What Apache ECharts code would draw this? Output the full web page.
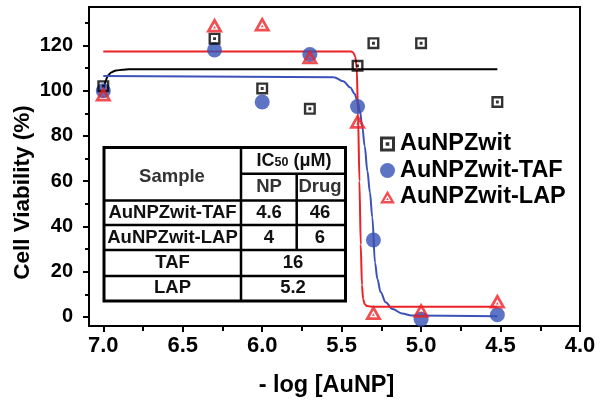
<!DOCTYPE html>
<html>
<head>
<meta charset="utf-8">
<script src="https://cdn.jsdelivr.net/npm/echarts@6/dist/echarts.min.js"></script>
<style>
  html, body { margin: 0; padding: 0; background: #fff; }
  #main { width: 601px; height: 403px; }
</style>
</head>
<body>
<div id="main"></div>
<script>
// -log[AuNP] 浓度点
const conc = [7.0, 6.3, 6.0, 5.7, 5.4, 5.3, 5.0, 4.52];
const zwit = [102, 123, 101, 92, 111, 121, 121, 95];
const taf = [100, 118, 95, 116, 93, 34, -1, 1];
const lap = [98.5, 129, 129.5, 115, 86.5, 2, 3, 7];

// 拟合曲线（从图上读的点）
const zwitFitX = [6.995, 6.985, 6.97, 6.95, 6.92, 6.88, 6.84, 4.52];
const zwitFitY = [101, 104.5, 106.8, 108.1, 108.9, 109.3, 109.5, 109.5];
const tafFitX = [7.0, 5.55, 5.49, 5.445, 5.42, 5.40, 5.385, 5.37, 5.355, 5.338, 5.322, 5.307, 5.29, 5.275, 5.255, 5.223, 5.18, 5.12, 5.06, 4.52];
const tafFitY = [106.5, 106, 104.2, 101.4, 98.8, 95.5, 91, 84, 75.5, 64.5, 55, 44, 24, 16.8, 11, 6.5, 3.5, 1.5, 0.6, 0.3];
const lapFitX = [7.0, 5.44, 5.426, 5.414, 5.405, 5.397, 5.388, 5.38, 5.372, 5.365, 5.355, 5.34, 5.3, 4.52];
const lapFitY = [117.3, 117.3, 116.8, 115, 110, 90, 60, 32, 14, 8, 5.6, 4.8, 4.5, 4.5];

// 坐标轴刻度
const xTicks = [4.0, 4.5, 5.0, 5.5, 6.0, 6.5, 7.0];
const xMinorTicks = [4.25, 4.75, 5.25, 5.75, 6.25, 6.75];
const yTicks = [0, 20, 40, 60, 80, 100, 120];
const yMinorTicks = [10, 30, 50, 70, 90, 110, 130];

// 表格内容
const tableRows = [
    ['AuNPZwit-TAF', '4.6', '46'],
    ['AuNPZwit-LAP', '4', '6'],
    ['TAF', '16'],
    ['LAP', '5.2']
];

const FONT = '"Liberation Sans", Arial, sans-serif';
const BLUE = '#3450b4';
const RED = '#ec2227';

const squarePath = 'path://M0,0H10V10H0Z M2,2V8H8V2Z M3.8,3.8H6.2V6.2H3.8Z';
const triPath = 'path://M5,0L10,8.66L0,8.66Z M5,3.2L2.77,7.06L7.23,7.06Z M5,4.79L5.85,6.26L4.15,6.26Z';

function pairs(xs, ys) {
    return xs.map((x, i) => [x, ys[i]]);
}

const chart = echarts.init(document.getElementById('main'));

// 表格
const tableGraphics = [];
const rowY = [212.7, 238.3, 263.3, 288.3];
const txt = function (text, x, y, color) {
    return {
        type: 'text', z: 100,
        style: {
            text: text, x: x, y: y, align: 'center', verticalAlign: 'middle',
            fontSize: 18.5, fontWeight: 'bold', fontFamily: FONT, fill: color || '#111'
        }
    };
};
const ln = function (x1, y1, x2, y2) {
    return {
        type: 'line', z: 100,
        shape: { x1: x1, y1: y1, x2: x2, y2: y2 },
        style: { stroke: '#000', lineWidth: 2.5 }
    };
};
tableGraphics.push({
    type: 'rect', z: 99,
    shape: { x: 104, y: 147.5, width: 241.5, height: 153.5 },
    style: { fill: '#fff', stroke: '#000', lineWidth: 3 }
});
tableGraphics.push(ln(241, 147.5, 241, 301));
tableGraphics.push(ln(296.7, 173.8, 296.7, 250));
tableGraphics.push(ln(241, 173.8, 345.5, 173.8));
[200.5, 225, 250, 276].forEach(y => tableGraphics.push(ln(104, y, 345.5, y)));
tableGraphics.push(txt('Sample', 172, 176.7, '#333'));
tableGraphics.push({
    type: 'text', z: 100,
    style: {
        text: '{a|IC}{b|50}{a| (μM)}', x: 294, y: 160.7, align: 'center', verticalAlign: 'middle',
        rich: {
            a: { fontSize: 18, fontWeight: 'bold', fontFamily: FONT, fill: '#111' },
            b: { fontSize: 12.5, fontWeight: 'bold', fontFamily: FONT, fill: '#111', padding: [3, 0, 0, 0] }
        }
    }
});
tableGraphics.push(txt('NP', 269, 187.3, '#333'));
tableGraphics.push(txt('Drug', 320, 187.3, '#333'));
tableRows.forEach((row, i) => {
    tableGraphics.push(txt(row[0], 172.5, rowY[i]));
    if (row.length === 3) {
        tableGraphics.push(txt(row[1], 269, rowY[i]));
        tableGraphics.push(txt(row[2], 320, rowY[i]));
    } else {
        tableGraphics.push(txt(row[1], 293, rowY[i]));
    }
});

const tickStyle = { color: '#000', width: 2 };

const option = {
    animation: false,
    backgroundColor: '#fff',
    grid: {
        left: 89, right: 21, top: 7, bottom: 76,
        show: true, borderColor: '#000', borderWidth: 2
    },
    legend: {
        orient: 'vertical',
        left: 375, top: 127,
        itemWidth: 15, itemHeight: 16, itemGap: 2.5,
        textStyle: { fontSize: 23.5, fontWeight: 'bold', fontFamily: FONT, color: '#000' },
        data: [
            { name: 'AuNPZwit', icon: squarePath },
            { name: 'AuNPZwit-TAF', icon: 'circle' },
            { name: 'AuNPZwit-LAP', icon: triPath }
        ]
    },
    xAxis: [{
        type: 'value', min: 4, max: 7.09, inverse: true,
        name: '- log [AuNP]', nameLocation: 'middle', nameGap: 48,
        nameTextStyle: { fontSize: 23.5, fontWeight: 'bold', fontFamily: FONT, color: '#000', padding: [0, 16, 0, 0] },
        axisLine: { onZero: false, lineStyle: { color: '#000', width: 2 } },
        axisTick: { customValues: xTicks, length: 6, lineStyle: tickStyle },
        minorTick: { show: true, splitNumber: 2, length: 5, lineStyle: tickStyle },
        axisLabel: {
            customValues: xTicks, margin: 9,
            fontSize: 22, fontWeight: 'bold', fontFamily: FONT, color: '#000',
            formatter: v => v.toFixed(1)
        },
        splitLine: { show: false }
    }, {
        type: 'value', min: 4, max: 7.09, inverse: true, position: 'bottom',
        axisLine: { show: false, onZero: false },
        axisTick: { customValues: xMinorTicks, length: 5, lineStyle: tickStyle },
        axisLabel: { show: false },
        splitLine: { show: false }
    }],
    yAxis: [{
        type: 'value', min: -4, max: 137, splitNumber: 7,
        name: 'Cell Viability (%)', nameLocation: 'middle', nameGap: 55, nameMoveOverlap: false,
        nameTextStyle: { fontSize: 22.5, fontWeight: 'bold', fontFamily: FONT, color: '#000', padding: [0, 52, 0, 0] },
        axisLine: { onZero: false, lineStyle: { color: '#000', width: 2 } },
        axisTick: { customValues: yTicks, length: 6, lineStyle: tickStyle },
        minorTick: { show: true, splitNumber: 2, length: 4, lineStyle: tickStyle },
        axisLabel: {
            customValues: yTicks, margin: 16,
            fontSize: 20, fontWeight: 'bold', fontFamily: FONT, color: '#000'
        },
        splitLine: { show: false }
    }, {
        type: 'value', min: -4, max: 137, position: 'left',
        axisLine: { show: false, onZero: false },
        axisTick: { customValues: yMinorTicks, length: 4, lineStyle: tickStyle },
        axisLabel: { show: false },
        splitLine: { show: false }
    }],
    series: [
        {
            name: 'fit-zwit', type: 'line', showSymbol: false, smooth: 0.3, smoothMonotone: 'x',
            lineStyle: { color: '#000', width: 2 }, data: pairs(zwitFitX, zwitFitY), z: 2
        },
        {
            name: 'fit-taf', type: 'line', showSymbol: false, smooth: 0.35, smoothMonotone: 'x',
            lineStyle: { color: '#3d52b9', width: 2 }, data: pairs(tafFitX, tafFitY), z: 2
        },
        {
            name: 'fit-lap', type: 'line', showSymbol: false, smooth: 0.25, smoothMonotone: 'x',
            lineStyle: { color: RED, width: 2 }, data: pairs(lapFitX, lapFitY), z: 2
        },
        {
            name: 'AuNPZwit-TAF', type: 'scatter', symbol: 'circle', symbolSize: 15,
            itemStyle: { color: BLUE }, data: pairs(conc, taf), z: 3
        },
        {
            name: 'AuNPZwit', type: 'scatter', symbol: squarePath, symbolSize: 12,
            itemStyle: { color: '#000' }, data: pairs(conc, zwit), z: 4
        },
        {
            name: 'AuNPZwit-LAP', type: 'scatter', symbol: triPath, symbolSize: [17, 15],
            itemStyle: { color: RED }, data: pairs(conc, lap), z: 5
        }
    ],
    graphic: tableGraphics
};

chart.setOption(option);
</script>
</body>
</html>
